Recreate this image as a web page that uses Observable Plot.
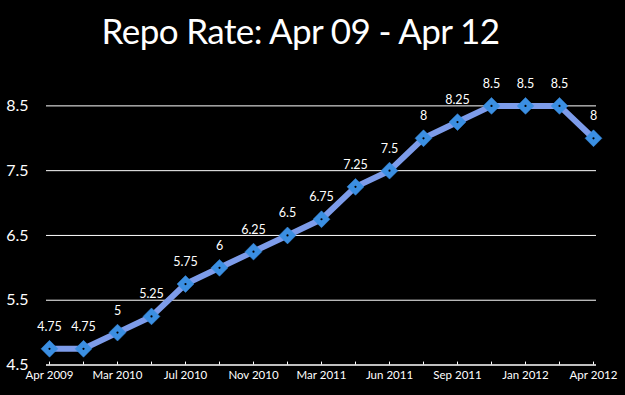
<!DOCTYPE html>
<html>
<head>
<meta charset="utf-8">
<script src="https://cdn.jsdelivr.net/npm/d3@7"></script>
<script src="https://cdn.jsdelivr.net/npm/@observablehq/plot@0.6"></script>
<style>
  html, body { margin: 0; padding: 0; background: #000; }
  #wrap { width: 625px; height: 395px; background: #000; overflow: hidden; }
  #title { height: 58px; color: #fff; font-family: Lato, "Open Sans", sans-serif; font-size: 35px; text-align: center; line-height: 61px; letter-spacing: -0.6px; padding-right: 24px; }
</style>
</head>
<body>
<div id="wrap">
  <div id="title">Repo Rate: Apr 09 - Apr 12</div>
  <div id="chart"></div>
</div>
<script>
const categories = ["Apr 2009","Jan 2010","Mar 2010","Apr 2010","Jul 2010","Sep 2010","Nov 2010","Jan 2011","Mar 2011","May 2011","Jun 2011","Jul 2011","Sep 2011","Oct 2011","Jan 2012","Mar 2012","Apr 2012"];
const repoRate = [4.75, 4.75, 5, 5.25, 5.75, 6, 6.25, 6.5, 6.75, 7.25, 7.5, 8, 8.25, 8.5, 8.5, 8.5, 8];
const xTickLabels = ["Apr 2009","Mar 2010","Jul 2010","Nov 2010","Mar 2011","Jun 2011","Sep 2011","Jan 2012","Apr 2012"];
const yTicks = [4.5, 5.5, 6.5, 7.5, 8.5];

const data = categories.map((c, i) => ({date: c, rate: repoRate[i]}));
const lineColor = "#7d9cea";
const markColor = "#3b8fe2";

const chart = Plot.plot({
  width: 625,
  height: 337,
  marginLeft: 46,
  marginRight: 29,
  marginTop: 15,
  marginBottom: 30.5,
  style: {background: "#000", color: "#fff", fontFamily: "Lato, 'Open Sans', sans-serif"},
  x: {type: "point", domain: categories, padding: 0, label: null},
  y: {domain: [4.5, 9.0], label: null},
  marks: [
    Plot.ruleY(yTicks.slice(1), {stroke: "#fff", strokeWidth: 1}),
    Plot.ruleY([yTicks[0]], {stroke: "#fff", strokeWidth: 1.5}),
    Plot.ruleX(categories, {x: d => d, y1: yTicks[0], y2: yTicks[0] + 0.045, stroke: "#fff", strokeWidth: 1}),
    Plot.axisY({ticks: yTicks, tickSize: 0, tickPadding: 18, fontSize: 16, label: null, tickFormat: d => String(d)}),
    Plot.axisX({ticks: xTickLabels, tickSize: 0, tickPadding: 6, fontSize: 11.5, label: null}),
    Plot.line(data, {x: "date", y: "rate", stroke: lineColor, strokeWidth: 6}),
    Plot.dot(data, {x: "date", y: "rate", symbol: "diamond2", r: 7.6, fill: markColor, stroke: markColor, strokeWidth: 0.5}),
    Plot.dot(data, {x: "date", y: "rate", r: 1.1, fill: "#000"}),
    Plot.text(data, {x: "date", y: "rate", text: d => String(d.rate), dy: -22, fill: "#fff", fontSize: 12.5})
  ]
});
document.getElementById("chart").appendChild(chart);
</script>
</body>
</html>
